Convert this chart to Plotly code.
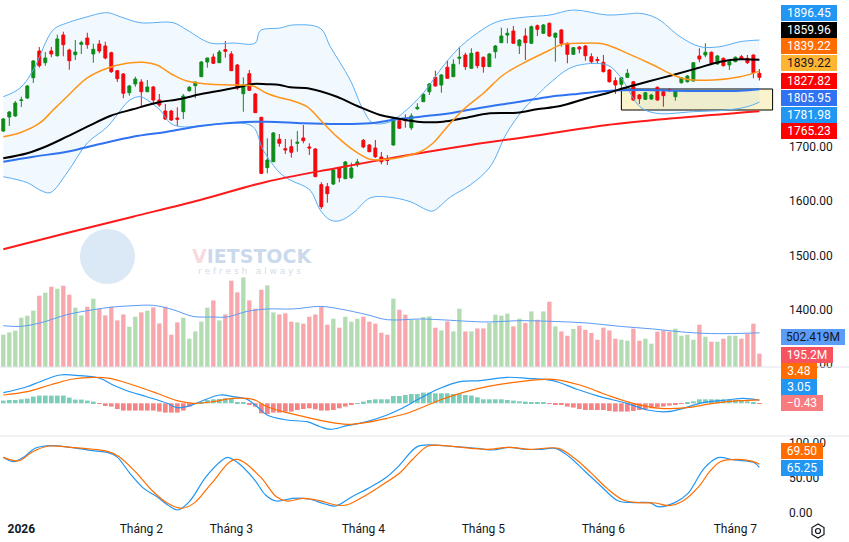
import plotly.graph_objects as go
from plotly.subplots import make_subplots

# ---- candles (index 0 = first bar on the chart) ----
opens = [1728.9, 1754.7, 1756.6, 1785.1, 1789.7, 1827.1, 1876.3, 1854.7, 1876.3, 1867.6,
         1905.7, 1878.1, 1869.5, 1888.6, 1900.2, 1870.8, 1889.2, 1885.5, 1873.1, 1840.0,
         1833.9, 1799.5, 1815.5, 1819.2, 1801.3, 1810.0, 1786.0, 1765.8, 1765.8, 1752.9,
         1764.5, 1803.2, 1812.4, 1829.0, 1856.0, 1865.2, 1854.7, 1878.7, 1870.8, 1850.5,
         1797.6, 1834.5, 1797.1, 1754.2, 1661.4, 1672.4, 1713.7, 1696.4, 1700.0, 1706.3,
         1716.1, 1699.5, 1695.8, 1630.1, 1626.4, 1631.3, 1660.8, 1641.1, 1642.9, 1666.9,
         1711.8, 1703.2, 1697.6, 1681.1, 1676.5, 1703.2, 1747.9, 1750.5, 1735.0, 1770.0,
         1782.9, 1801.3, 1827.8, 1813.7, 1846.3, 1829.0, 1862.8, 1868.9, 1844.4, 1873.9,
         1864.7, 1847.4, 1875.0, 1891.6, 1905.7, 1913.1, 1886.0, 1903.9, 1890.5, 1922.9,
         1908.9, 1927.3, 1901.5, 1915.0, 1890.5, 1870.2, 1883.6, 1885.5, 1865.8, 1860.6,
         1855.5, 1841.3, 1821.6, 1815.0, 1827.8, 1819.7, 1795.2, 1787.3, 1787.9, 1809.4,
         1801.3, 1805.4, 1792.1, 1817.9, 1819.7, 1821.0, 1867.1, 1868.9, 1873.9, 1852.3,
         1862.8, 1850.5, 1856.6, 1865.8, 1862.8, 1868.9, 1835.2]
highs = [1752.9, 1765.8, 1784.2, 1792.1, 1813.7, 1859.7, 1883.6, 1874.4, 1883.6, 1906.3,
         1911.8, 1880.5, 1896.5, 1895.2, 1910.0, 1889.7, 1896.5, 1893.4, 1875.0, 1841.3,
         1835.8, 1813.7, 1829.0, 1824.2, 1822.9, 1811.8, 1797.1, 1778.7, 1767.6, 1772.6,
         1797.1, 1811.8, 1819.5, 1857.9, 1863.6, 1871.3, 1878.1, 1894.7, 1875.7, 1852.3,
         1827.8, 1841.3, 1798.9, 1754.7, 1715.5, 1727.1, 1723.4, 1714.2, 1713.7, 1728.9,
         1740.0, 1706.3, 1697.6, 1634.5, 1633.2, 1659.0, 1662.7, 1673.7, 1670.6, 1677.4,
         1714.2, 1705.0, 1712.4, 1690.3, 1684.7, 1754.7, 1752.3, 1759.7, 1761.5, 1780.0,
         1798.0, 1817.3, 1840.0, 1833.9, 1858.4, 1861.0, 1884.2, 1873.1, 1881.3, 1875.4,
         1866.2, 1872.6, 1887.3, 1919.2, 1918.1, 1922.3, 1898.4, 1918.1, 1923.2, 1925.1,
         1926.0, 1928.8, 1910.3, 1916.8, 1892.0, 1883.6, 1885.5, 1887.3, 1872.0, 1865.8,
         1868.9, 1843.1, 1827.8, 1828.4, 1843.1, 1821.0, 1797.1, 1800.8, 1797.1, 1810.9,
         1806.3, 1807.6, 1804.5, 1828.4, 1832.1, 1856.0, 1881.3, 1890.5, 1875.4, 1868.9,
         1864.3, 1857.9, 1866.2, 1868.9, 1868.9, 1869.8, 1843.1]
lows = [1727.1, 1738.2, 1755.0, 1773.1, 1787.9, 1817.3, 1845.5, 1849.2, 1864.7, 1866.0,
        1866.5, 1841.8, 1859.7, 1870.8, 1880.5, 1854.7, 1872.0, 1861.0, 1835.8, 1819.2,
        1789.2, 1794.0, 1810.5, 1775.0, 1800.5, 1776.8, 1773.7, 1749.2, 1747.4, 1738.2,
        1751.0, 1801.3, 1789.2, 1828.4, 1845.5, 1852.3, 1854.2, 1863.9, 1839.5, 1804.5,
        1764.5, 1802.6, 1762.1, 1649.8, 1651.0, 1671.9, 1700.0, 1686.6, 1679.8, 1690.8,
        1706.3, 1684.7, 1644.2, 1585.3, 1597.0, 1629.5, 1634.5, 1640.5, 1640.5, 1662.7,
        1697.1, 1690.3, 1679.2, 1667.6, 1666.3, 1702.0, 1732.6, 1735.0, 1730.8, 1767.6,
        1782.4, 1795.2, 1810.9, 1799.5, 1825.6, 1828.4, 1851.8, 1841.3, 1843.1, 1844.4,
        1836.3, 1846.8, 1862.8, 1891.0, 1890.5, 1889.2, 1870.8, 1859.7, 1889.2, 1903.9,
        1907.6, 1902.1, 1856.6, 1884.2, 1853.6, 1868.9, 1872.0, 1858.4, 1852.3, 1853.6,
        1836.7, 1818.3, 1797.1, 1807.6, 1826.6, 1784.8, 1778.7, 1786.0, 1786.0, 1784.8,
        1773.7, 1800.8, 1784.8, 1816.4, 1818.3, 1820.1, 1855.5, 1864.7, 1852.3, 1851.4,
        1847.7, 1841.3, 1855.5, 1859.7, 1852.3, 1826.0, 1822.0]
closes = [1751.0, 1763.9, 1780.5, 1786.0, 1811.8, 1857.9, 1849.2, 1863.4, 1870.8, 1898.4,
          1887.9, 1858.4, 1874.4, 1891.6, 1887.9, 1879.4, 1876.3, 1863.4, 1838.2, 1825.3,
          1798.4, 1811.8, 1824.7, 1801.3, 1810.0, 1786.0, 1776.8, 1751.0, 1749.2, 1750.5,
          1793.4, 1809.4, 1819.2, 1856.0, 1863.4, 1853.6, 1874.4, 1875.7, 1840.0, 1808.1,
          1813.1, 1803.9, 1762.7, 1651.0, 1675.5, 1725.3, 1706.3, 1694.0, 1689.7, 1708.1,
          1711.1, 1697.6, 1644.8, 1589.5, 1613.5, 1657.1, 1642.9, 1671.9, 1660.8, 1671.9,
          1699.5, 1690.8, 1681.6, 1672.4, 1674.6, 1753.4, 1733.9, 1747.9, 1756.6, 1772.6,
          1796.5, 1815.5, 1811.8, 1832.1, 1826.0, 1851.8, 1864.7, 1847.4, 1872.0, 1849.2,
          1847.4, 1870.8, 1885.5, 1903.9, 1908.9, 1890.5, 1896.5, 1891.6, 1921.0, 1916.2,
          1924.2, 1903.9, 1908.9, 1890.5, 1870.2, 1882.4, 1880.0, 1867.6, 1856.6, 1858.8,
          1838.2, 1819.7, 1813.7, 1827.1, 1835.2, 1786.0, 1788.4, 1799.5, 1795.2, 1786.0,
          1794.0, 1803.5, 1802.6, 1827.1, 1830.2, 1854.7, 1861.5, 1873.9, 1853.6, 1867.1,
          1849.2, 1856.6, 1864.7, 1861.0, 1854.7, 1836.3, 1827.82]

# volume in millions of shares
volume = [475, 509, 534, 725, 754, 828, 1048, 1092, 1180, 1151,
          1195, 1063, 872, 759, 886, 1004, 853, 759, 886, 685,
          773, 592, 739, 803, 828, 876, 641, 886, 475, 656,
          725, 416, 523, 666, 872, 979, 685, 773, 1269, 1097,
          1317, 979, 857, 1136, 1200, 803, 773, 788, 666, 656,
          637, 739, 773, 891, 622, 710, 578, 739, 666, 710,
          739, 666, 637, 504, 475, 1004, 842, 769, 695, 695,
          735, 744, 578, 538, 670, 523, 857, 523, 523, 567,
          567, 647, 769, 754, 784, 597, 710, 647, 817, 695,
          817, 960, 597, 523, 460, 559, 607, 548, 500, 401,
          578, 538, 416, 401, 387, 563, 387, 416, 343, 519,
          538, 519, 563, 460, 475, 401, 622, 445, 372, 372,
          416, 460, 460, 416, 490, 637, 195.2]

macd_hist = [2.7, 3.3, 3.3, 4.0, 4.7, 6.7, 7.7, 7.7, 7.7, 7.7,
             7.7, 5.7, 3.7, 3.7, 2.7, 1.7, -0.7, -2.7, -3.3, -5.7,
             -7.3, -7.3, -7.3, -7.3, -7.3, -7.3, -8.3, -9.3, -9.3, -9.3,
             -7.3, -3.3, -0.7, 0.7, 3.3, 4.0, 4.3, 5.0, 4.3, 1.3,
             0.7, -1.0, -3.3, -10.0, -10.7, -9.3, -9.3, -8.3, -8.3, -6.7,
             -5.7, -5.0, -6.0, -7.3, -7.3, -6.7, -5.0, -3.3, -1.7, 0.3,
             1.7, 3.3, 4.0, 4.0, 4.0, 7.3, 7.3, 8.3, 9.3, 9.3,
             10.7, 10.7, 10.0, 10.0, 10.0, 9.3, 9.3, 8.3, 7.7, 6.0,
             4.0, 4.0, 4.0, 4.0, 3.3, 2.7, 2.0, 1.7, 1.3, 1.0,
             0.7, -0.7, -1.0, -1.7, -3.3, -4.3, -5.7, -6.7, -6.7, -6.7,
             -6.7, -7.7, -8.3, -8.3, -8.3, -7.7, -6.7, -6.0, -5.0, -4.0,
             -3.3, -2.3, -1.3, -0.7, 0.7, 2.0, 4.0, 4.0, 4.0, 4.0,
             4.0, 4.0, 3.3, 2.7, 2.0, 1.3, -0.43]

# ---- indicator lines, read at bar positions ----
bb_up_x = [0, 2.8, 5, 8.3, 10.6, 13.3, 17.3, 19.5, 22.8, 28.3, 30.6, 34.5, 38.3, 42, 42.8, 46.1, 48.3, 52.8, 54.5, 57.8,
           60, 61.6, 64.5, 66.6, 70, 72.8, 75.6, 79, 82.3, 86.6, 91.1, 95, 100.6, 104, 106.1, 108.9, 112.8, 116.1, 119.4, 122.8, 126]
bb_up = [1792.1, 1808.1, 1841.3, 1915.0, 1927.8, 1937.1, 1946.8, 1939.4, 1928.4, 1928.4, 1915.0, 1891.0, 1891.0, 1891.0,
         1913.7, 1918.6, 1924.2, 1918.1, 1884.2, 1822.9, 1767.6, 1743.7, 1746.1, 1762.1, 1798.9, 1841.3, 1878.1, 1909.4,
         1930.2, 1938.3, 1942.6, 1951.8, 1942.6, 1944.4, 1945.7, 1936.5, 1902.6, 1884.2, 1884.2, 1893.4, 1896.45]
bb_lo_x = [0, 4, 6.1, 7.8, 10.6, 14, 17.3, 21.1, 22.8, 24, 26.1, 27.8, 29.5, 32.8, 38.3, 41.6, 43.3, 46.1, 47.8, 51.1,
           52.8, 54.5, 56.1, 58.3, 61.1, 64, 67.8, 70.6, 71.6, 74.5, 77.8, 81.1, 83.9, 86.6, 89, 91.1, 95, 100.6, 102.8,
           106.1, 108.9, 115, 120.6, 124, 126]
bb_lo = [1644.8, 1633.7, 1620.3, 1615.3, 1651.6, 1706.8, 1736.3, 1786.0, 1792.1, 1786.0, 1767.6, 1743.7, 1736.9, 1738.2,
         1743.7, 1736.9, 1693.9, 1651.6, 1638.7, 1620.3, 1583.5, 1565.0, 1563.8, 1577.9, 1605.6, 1607.4, 1598.8, 1583.5,
         1581.6, 1607.4, 1629.5, 1662.7, 1725.3, 1767.6, 1795.2, 1817.3, 1847.4, 1850.5, 1829.0, 1773.7, 1761.5, 1764.5,
         1767.6, 1773.7, 1781.98]
ma20_x = [0, 2.8, 6.1, 8.3, 10.6, 14, 17.3, 20.6, 23.3, 25.6, 28.3, 30.6, 34, 38.3, 41.6, 43.9, 46.1, 47.8, 50.6, 53.3,
          55.6, 58.3, 61.1, 64, 66.6, 69.5, 71.6, 74, 76.6, 80, 83.3, 86.6, 91.1, 92.8, 96.1, 100, 104, 108.3, 111.6,
          113.9, 118.3, 122.8, 126]
ma20 = [1718.5, 1725.8, 1743.7, 1767.6, 1792.1, 1826.6, 1844.4, 1853.6, 1855.5, 1850.5, 1832.1, 1821.0, 1815.5, 1813.7,
        1811.8, 1798.4, 1790.3, 1786.0, 1773.7, 1743.7, 1718.5, 1694.0, 1676.8, 1676.8, 1681.6, 1690.8, 1706.3, 1736.9,
        1767.6, 1798.4, 1832.1, 1853.6, 1878.1, 1887.3, 1890.5, 1889.2, 1872.0, 1850.5, 1832.1, 1824.2, 1822.9, 1829.0,
        1839.22]
ma50_x = [0, 4, 7.3, 10.6, 14, 17.8, 21.6, 25.6, 29.5, 32.8, 36.1, 39.5, 41.6, 43.9, 46.1, 47.8, 51.1, 55.6, 59, 62.8,
          65.6, 69, 73.3, 76.6, 81.1, 85.6, 88.9, 92.8, 97.3, 100.6, 103.3, 107.3, 111.6, 115.6, 119.5, 122.8, 126]
ma50 = [1678.7, 1687.9, 1701.3, 1718.5, 1736.9, 1756.6, 1768.9, 1781.1, 1787.9, 1796.5, 1803.2, 1810.5, 1815.5, 1815.0,
        1813.7, 1809.4, 1806.9, 1792.1, 1775.0, 1758.4, 1752.3, 1746.1, 1746.1, 1752.3, 1761.5, 1762.7, 1768.9, 1775.0,
        1789.2, 1798.4, 1807.6, 1819.7, 1832.1, 1844.4, 1856.6, 1861.0, 1859.96]
ma100_x = [0, 5, 10.6, 16.1, 21.6, 27.3, 32.8, 38.3, 43.9, 50, 55.6, 61.1, 65.6, 69.5, 75, 80.6, 86.1, 91.1, 95, 100.6,
           106.1, 111.6, 117.3, 122.8, 126]
ma100 = [1672.4, 1681.6, 1690.8, 1705.0, 1718.5, 1727.7, 1738.2, 1744.2, 1746.1, 1743.1, 1741.8, 1743.1, 1750.5, 1755.3,
         1762.7, 1773.7, 1782.9, 1792.1, 1796.5, 1802.6, 1804.5, 1803.2, 1802.6, 1803.2, 1805.95]
ma200_x = [0, 10.6, 21.6, 32.8, 43.9, 55.6, 66.6, 77.8, 89.5, 100.6, 111.6, 126]
ma200 = [1511.1, 1541.1, 1571.1, 1601.9, 1635.6, 1660.8, 1682.9, 1703.2, 1721.6, 1740.0, 1752.3, 1765.23]

vol_ma_x = [0, 2.8, 6.1, 10.6, 15, 18.3, 21.6, 25, 28.3, 31.6, 35, 37.3, 40.6, 44, 48.3, 52.8, 56.1, 60.6, 64, 69.5,
            72.8, 80.6, 86.1, 91.6, 97.3, 102.8, 108.3, 113.9, 119.4, 126]
vol_ma = [607, 597, 647, 769, 842, 882, 901, 906, 842, 744, 735, 735, 817, 853, 853, 891, 853, 769, 695, 706,
          695, 662, 681, 670, 647, 597, 559, 509, 490, 502.419]

macd_x = [0, 3.95, 6.1, 9.45, 12.8, 16.1, 18.3, 20.6, 23.9, 27.3, 28.95, 30.6, 32.8, 36.1, 38.3, 40.6, 42.3, 43.95,
          47.3, 50.6, 52.8, 54.5, 57.3, 60.6, 63.95, 66.1, 69.45, 72.8, 76.1, 79.45, 83.95, 87.3, 91.6, 95.6, 99.45,
          103.95, 107.3, 110.6, 113.3, 116.6, 120.6, 123.3, 126]
macd = [10.6, 16.6, 21.6, 28.3, 27.6, 25, 18.3, 12.6, 6.6, 0, -4.4, -3.4, 1.6, 8.3, 6.6, 4, -3.4, -11.7, -16.7, -18.4,
        -23.4, -26, -22.4, -18.4, -11.7, -6, 5, 15, 21.6, 22.6, 26, 25, 22.6, 14, 6.6, 0, -6.7, -8.4, -5, 0.6, 3.3, 5, 3.05]
signal_x = [0, 3.95, 7.8, 11.6, 14.95, 17.8, 21.6, 25.6, 28.95, 31.6, 34.95, 38.3, 41.6, 43.95, 47.3, 50.6, 53.95,
            57.3, 60.6, 63.95, 67.3, 69.45, 72.8, 76.1, 80.6, 86.1, 91.6, 96.1, 100.6, 104.95, 109.45, 113.95, 118.3,
            122.8, 126]
signal = [8.3, 11.6, 18.3, 24.3, 26, 25, 18.3, 10, 2.6, 0, 1.6, 5, 4, -3.4, -9.4, -14, -18.4, -21, -19, -15,
          -10, -5, 3.3, 10, 16.6, 21.6, 24, 18.3, 8.3, 0, -5, -4.4, 0, 2.6, 3.48]

stoch_k_x = [0, 1.7, 3.5, 5.3, 8, 11.2, 14.8, 17.5, 18.9, 21.1, 23.4, 25.6, 27.4, 29.1, 31, 33.8, 36.5, 37.4, 39.2,
             41.9, 43.7, 45.5, 48.2, 50.9, 53.6, 55.4, 58.1, 60.8, 63.6, 65.8, 69, 71.7, 75.3, 78.9, 81.6, 84.3, 87,
             89.7, 92, 94.3, 97, 99.7, 102.4, 105.1, 107.8, 109.1, 111.9, 114.1, 116.8, 119.1, 121.8, 125, 126]
stoch_k = [79.5, 73.3, 80.5, 92.4, 96.2, 93.8, 89, 86.2, 80.5, 56.7, 35.2, 23.3, 11.4, 4.3, 16.2, 51.9, 75.7, 79.5, 71,
           47.1, 25.7, 17.1, 21, 20, 12.9, 10, 23.3, 35.2, 49.5, 66.2, 94.8, 97.1, 94.8, 92.4, 90, 93.8, 91, 91, 92.4,
           80.5, 59, 37.6, 17.6, 14.8, 14.8, 9, 14.8, 28.1, 63.8, 79, 75.7, 72.4, 65.25]
stoch_d_x = [0, 2.6, 4.9, 7.6, 11.2, 17.5, 19.3, 22, 24.7, 27.4, 29.7, 31.9, 34.7, 38.7, 42.8, 45.5, 47.3, 50, 52.7,
             55.4, 57.2, 60, 62.7, 66.3, 68.1, 70.8, 73.5, 78, 80.7, 84.3, 87.9, 92.5, 95.2, 97.9, 100.6, 103.3, 106,
             108.7, 111, 113.2, 115.9, 117.7, 119.5, 122.3, 125, 126]
stoch_d = [79.5, 74.8, 87.6, 95.7, 93.8, 87.6, 80.5, 59, 32.9, 13.8, 6.7, 14.8, 42.4, 76.7, 51.9, 23.3, 17.1, 21, 17.6,
           11.4, 11.4, 23.3, 37.6, 59, 75.7, 95.7, 96.2, 92.4, 91, 93.8, 91, 92.4, 78.1, 57.6, 35.2, 18.6, 14.8, 14.3,
           10.5, 16.7, 37.6, 59, 73.3, 76.7, 73.3, 69.5]

# month labels on the time axis
month_pos = [3, 23, 38, 60, 80, 100, 122]
month_text = ["<b>2026</b>", "Tháng 2", "Tháng 3", "Tháng 4", "Tháng 5", "Tháng 6", "Tháng 7"]

# highlighted base zone
zone_x = [103, 128.2]
zone_y = [1767.6, 1806.3]

GREEN = "#0f8a0f"
RED = "#ff0000"
TXT = "#131722"
FONT = "Roboto"

idx = list(range(len(closes)))
up = [c >= o for o, c in zip(opens, closes)]

PLOT_W, PLOT_H = 778, 520


def px(x):
    return x / PLOT_W


def py(y):
    return (PLOT_H - y) / PLOT_H


fig = make_subplots(rows=3, cols=1, shared_xaxes=True, vertical_spacing=0,
                    row_heights=[367, 69, 84],
                    specs=[[{"secondary_y": True}], [{}], [{}]])

# Bollinger band
fig.add_trace(go.Scatter(x=bb_lo_x, y=bb_lo, mode="lines", line=dict(color="#5aaef5", width=1, shape="spline")),
              row=1, col=1, secondary_y=False)
fig.add_trace(go.Scatter(x=bb_up_x, y=bb_up, mode="lines", fill="tonexty", fillcolor="rgba(33,150,243,0.06)",
                         line=dict(color="#5aaef5", width=1, shape="spline")),
              row=1, col=1, secondary_y=False)

# moving averages
for xs, ys, col, w in [(ma200_x, ma200, "#ff1a1a", 2),
                       (ma100_x, ma100, "#2f72f2", 2),
                       (ma50_x, ma50, "#000000", 2),
                       (ma20_x, ma20, "#ff9419", 1.5)]:
    fig.add_trace(go.Scatter(x=xs, y=ys, mode="lines", line=dict(color=col, width=w, shape="spline")),
                  row=1, col=1, secondary_y=False)

fig.add_trace(go.Candlestick(x=idx, open=opens, high=highs, low=lows, close=closes, whiskerwidth=0,
                             increasing=dict(line=dict(color=GREEN, width=1), fillcolor=GREEN),
                             decreasing=dict(line=dict(color=RED, width=1), fillcolor=RED)),
              row=1, col=1, secondary_y=False)

# volume overlay
fig.add_trace(go.Bar(x=idx, y=volume, width=0.72,
                     marker=dict(color=["#b4dcb3" if u else "#f8a8ad" for u in up], line_width=0)),
              row=1, col=1, secondary_y=True)
fig.add_trace(go.Scatter(x=vol_ma_x, y=vol_ma, mode="lines", line=dict(color="#5b9cf6", width=1, shape="spline")),
              row=1, col=1, secondary_y=True)

# MACD
fig.add_trace(go.Bar(x=idx, y=macd_hist, width=0.78,
                     marker=dict(color=["#7acdb8" if h >= 0 else "#f58383" for h in macd_hist], line_width=0)),
              row=2, col=1)
fig.add_trace(go.Scatter(x=macd_x, y=macd, mode="lines", line=dict(color="#2196f3", width=1.2, shape="spline")),
              row=2, col=1)
fig.add_trace(go.Scatter(x=signal_x, y=signal, mode="lines", line=dict(color="#ff6d00", width=1.2, shape="spline")),
              row=2, col=1)

# Stochastic
fig.add_hrect(y0=20, y1=80, row=3, col=1, fillcolor="rgba(33,150,243,0.1)", line_width=0, layer="below")
for lvl in (20, 80):
    fig.add_hline(y=lvl, row=3, col=1, line=dict(color="#787b86", width=1, dash="4px,4px"))
fig.add_trace(go.Scatter(x=stoch_k_x, y=stoch_k, mode="lines", line=dict(color="#2196f3", width=1.2, shape="spline")),
              row=3, col=1)
fig.add_trace(go.Scatter(x=stoch_d_x, y=stoch_d, mode="lines", line=dict(color="#ff6d00", width=1.2, shape="spline")),
              row=3, col=1)

# base zone box
fig.add_shape(type="rect", x0=zone_x[0], x1=zone_x[1], y0=zone_y[0], y1=zone_y[1], xref="x", yref="y",
              fillcolor="#fbf3cc", line=dict(color="#000000", width=1), layer="below")

# axes (full-width domain: make_subplots shrinks it for the secondary axis)
fig.update_xaxes(domain=[0, 1], range=[-0.55, 129.1], showgrid=False, zeroline=False, showticklabels=False,
                 rangeslider_visible=False, showline=False, automargin=False)
fig.update_xaxes(row=3, col=1, showticklabels=True, tickvals=month_pos, ticktext=month_text, ticks="",
                 tickfont=dict(size=12, color=TXT, family=FONT))
fig.update_yaxes(automargin=False)
fig.update_yaxes(row=1, col=1, secondary_y=False, side="right", range=[1294.3, 1970.2],
                 tickvals=[1300, 1400, 1500, 1600, 1700], tickformat=".2f", showgrid=False, zeroline=False,
                 ticks="", ticklabelstandoff=10, tickfont=dict(size=12, color=TXT, family=FONT))
fig.update_yaxes(row=1, col=1, secondary_y=True, range=[0, 5395], visible=False, showgrid=False)
fig.update_yaxes(row=2, col=1, side="right", range=[-32.7, 36.3], showticklabels=False, showgrid=False,
                 zeroline=False)
fig.update_yaxes(row=3, col=1, side="right", range=[-10, 110], tickvals=[0, 50, 100], tickformat=".2f",
                 showgrid=False, zeroline=False, ticks="", ticklabelstandoff=10,
                 tickfont=dict(size=12, color=TXT, family=FONT))

# pane separators
for sep in (367, 436):
    fig.add_shape(type="line", xref="paper", yref="paper", x0=0, x1=849 / PLOT_W, y0=py(sep), y1=py(sep),
                  line=dict(color="#e0e3eb", width=1))

# last-value labels on the price scale
last_labels = [
    (12.9, "#2196f3", "white", f"{bb_up[-1]:.2f}", 56),
    (29.5, "#000000", "white", f"{ma50[-1]:.2f}", 56),
    (46.3, "#ff6d00", "white", f"{ma20[-1]:.2f}", 56),
    (63.3, "#ffb531", TXT, f"{ma20[-1]:.2f}", 56),
    (80.8, "#ff0000", "white", f"{closes[-1]:.2f}", 56),
    (98.0, "#2f72f2", "white", f"{ma100[-1]:.2f}", 56),
    (114.7, "#2196f3", "white", f"{bb_lo[-1]:.2f}", 56),
    (131.3, "#ff0000", "white", f"{ma200[-1]:.2f}", 56),
    (336.7, "#5b9cf6", TXT, f"{vol_ma[-1]:.3f}M", 64),
    (371.0, "#ff6d00", "white", f"{signal[-1]:.2f}", 36),
    (354.7, "#f7525f", "white", f"{volume[-1]:.1f}M", 52),
    (387.0, "#2196f3", "white", f"{macd[-1]:.2f}", 36),
    (403.3, "#f77c80", "white", f"{macd_hist[-1]:.2f}".replace("-", "−"), 42),
    (450.5, "#ff6d00", "white", f"{stoch_d[-1]:.2f}", 42),
    (467.5, "#2196f3", "white", f"{stoch_k[-1]:.2f}", 42),
]
for cy, bg, fg, txt, w in last_labels:
    fig.add_annotation(xref="paper", yref="paper", x=px(781), y=py(cy), xanchor="left", yanchor="middle",
                       text=txt, showarrow=False, bgcolor=bg, width=w, height=16, borderpad=0, borderwidth=0,
                       font=dict(size=12, color=fg, family=FONT))

# watermark
fig.add_shape(type="circle", xref="paper", yref="paper", x0=px(80), x1=px(135), y0=py(284), y1=py(229),
              fillcolor="rgba(175,205,232,0.45)", line_width=0, layer="below")
fig.add_annotation(xref="paper", yref="paper", x=px(190), y=py(256), showarrow=False,
                   text="<b><span style='color:rgba(240,170,180,0.6)'>V</span>IETSTOCK</b>",
                   font=dict(size=19, color="rgba(185,205,230,0.75)", family="DejaVu Sans"))
fig.add_annotation(xref="paper", yref="paper", x=px(196), y=py(271), showarrow=False,
                   text="r e f r e s h   a l w a y s",
                   font=dict(size=9, color="rgba(200,210,222,0.8)", family="DejaVu Sans"))

# settings icon in the corner: hexagon outline with a small ring
hexagon = [(818, 524), (812, 527.5), (812, 534.5), (818, 538), (824, 534.5), (824, 527.5)]
hex_path = "M " + " L ".join(f"{px(a):.5f},{py(b):.5f}" for a, b in hexagon) + " Z"
fig.add_shape(type="path", xref="paper", yref="paper", path=hex_path, line=dict(color=TXT, width=1.2))
fig.add_shape(type="circle", xref="paper", yref="paper", x0=px(815.5), x1=px(820.5), y0=py(533.5), y1=py(528.5),
              line=dict(color=TXT, width=1.2))

fig.update_layout(width=849, height=542, margin=dict(l=0, r=849 - PLOT_W, t=0, b=542 - PLOT_H),
                  paper_bgcolor="white", plot_bgcolor="white", showlegend=False, hovermode=False,
                  font=dict(family=FONT, color=TXT))

# page body has a default 8px margin; drop it so the chart sits at the window corner
fig.write_html("out.html", config={"displayModeBar": False},
               post_script="document.body.style.margin='0px';")
